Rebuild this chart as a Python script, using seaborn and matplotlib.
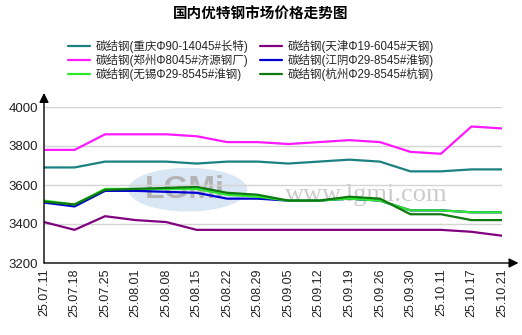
import matplotlib
matplotlib.use("Agg")
import matplotlib.pyplot as plt
from matplotlib.patches import Ellipse
import numpy as np
import pandas as pd
import seaborn as sns

# Weekly quotation dates
dates = ["25.07.11", "25.07.18", "25.07.25", "25.08.01", "25.08.08", "25.08.15",
         "25.08.22", "25.08.29", "25.09.05", "25.09.12", "25.09.19", "25.09.26",
         "25.09.30", "25.10.11", "25.10.17", "25.10.21"]

# Prices (yuan/ton) by market
chongqing = [3690, 3690, 3720, 3720, 3720, 3710, 3720, 3720, 3710, 3720, 3730, 3720, 3670, 3670, 3680, 3680]
tianjin = [3410, 3370, 3440, 3420, 3410, 3370, 3370, 3370, 3370, 3370, 3370, 3370, 3370, 3370, 3360, 3340]
zhengzhou = [3780, 3780, 3860, 3860, 3860, 3850, 3820, 3820, 3810, 3820, 3830, 3820, 3770, 3760, 3900, 3890]
jiangyin = [3510, 3490, 3570, 3570, 3565, 3560, 3530, 3530, 3520, 3520, 3530, 3520, 3470, 3470, 3460, 3460]
wuxi = [3520, 3500, 3580, 3580, 3580, 3580, 3550, 3540, 3520, 3520, 3530, 3520, 3470, 3470, 3460, 3460]
hangzhou = [3515, 3500, 3575, 3580, 3585, 3590, 3560, 3550, 3520, 3520, 3540, 3530, 3450, 3450, 3420, 3420]

names = ["碳结钢(重庆Φ90-14045#长特)", "碳结钢(天津Φ19-6045#天钢)",
         "碳结钢(郑州Φ8045#济源钢厂)", "碳结钢(江阴Φ29-8545#淮钢)",
         "碳结钢(无锡Φ29-8545#淮钢)", "碳结钢(杭州Φ29-8545#杭钢)"]
series = [chongqing, tianjin, zhengzhou, jiangyin, wuxi, hangzhou]
colors = ["#1b8080", "#800080", "#ff19ff", "#0000d0", "#2ee82e", "#0f7a0f"]

title = "国内优特钢市场价格走势图"
yticks = [3200, 3400, 3600, 3800, 4000]

df = pd.DataFrame({
    "idx": np.tile(np.arange(len(dates)), len(names)),
    "price": np.concatenate(series),
    "series": np.repeat(names, len(dates)),
})

sns.set_theme(style="white")
plt.rcParams["font.family"] = ["Liberation Sans", "Noto Sans CJK SC", "DejaVu Sans"]

fig = plt.figure(figsize=(5.22, 3.35), dpi=100)
ax = fig.add_axes([44 / 522, 72 / 335, 458 / 522, 156 / 335])

# Watermark
ax.add_patch(Ellipse((0.314, 0.47), 0.26, 0.28, transform=ax.transAxes,
                     facecolor="#d9e6f3", edgecolor="none", zorder=0))
ax.text(0.308, 0.47, "LGMi", transform=ax.transAxes, ha="center", va="center",
        fontsize=23, fontweight="bold", color="#b4b4b4", zorder=0.5)
ax.text(0.703, 0.40, "www.lgmi.com", transform=ax.transAxes, ha="center",
        va="baseline", fontsize=19, family="Liberation Serif", color="#cbcbcb", zorder=0.5)

sns.lineplot(data=df, x="idx", y="price", hue="series", hue_order=names,
             palette=dict(zip(names, colors)), linewidth=1.6, ax=ax, zorder=3)

ax.set_xlim(0, len(dates) - 1)
ax.set_ylim(3200, 4000)
ax.set_xticks(range(len(dates)))
ax.set_xticklabels(dates, rotation=90, fontsize=9, color="#222222")
ax.set_yticks(yticks)
ax.set_yticklabels([str(v) for v in yticks], fontsize=9.5, color="#222222")
ax.set_xlabel("")
ax.set_ylabel("")
ax.tick_params(axis="both", direction="out", length=3, width=0.8, color="black", pad=1)
for y in yticks[1:]:
    ax.axhline(y, color="#d4d4d4", linewidth=1, zorder=1)

for s in ax.spines.values():
    s.set_visible(False)
arrow = dict(arrowstyle="-|>", color="black", lw=1, mutation_scale=14, shrinkA=0, shrinkB=0)
ax.annotate("", xy=(0, 1.09), xytext=(0, 0), xycoords="axes fraction",
            textcoords="axes fraction", arrowprops=arrow, annotation_clip=False)
ax.annotate("", xy=(1.036, 0), xytext=(0, 0), xycoords="axes fraction",
            textcoords="axes fraction", arrowprops=arrow, annotation_clip=False)

handles, labels = ax.get_legend_handles_labels()
order = [0, 2, 4, 1, 3, 5]
ax.legend([handles[i] for i in order], [labels[i] for i in order], ncol=2,
          loc="center", bbox_to_anchor=(251 / 522, 1 - 60.5 / 335), bbox_transform=fig.transFigure,
          frameon=False, fontsize=8.3, handlelength=1.9, handletextpad=0.5,
          columnspacing=1.0, labelspacing=0.1, borderpad=0)

fig.text(0.5, 1 - 15 / 335, title, ha="center", va="center", fontsize=10.5,
         fontweight="bold", color="black")

fig.savefig("out.png", dpi=100)
